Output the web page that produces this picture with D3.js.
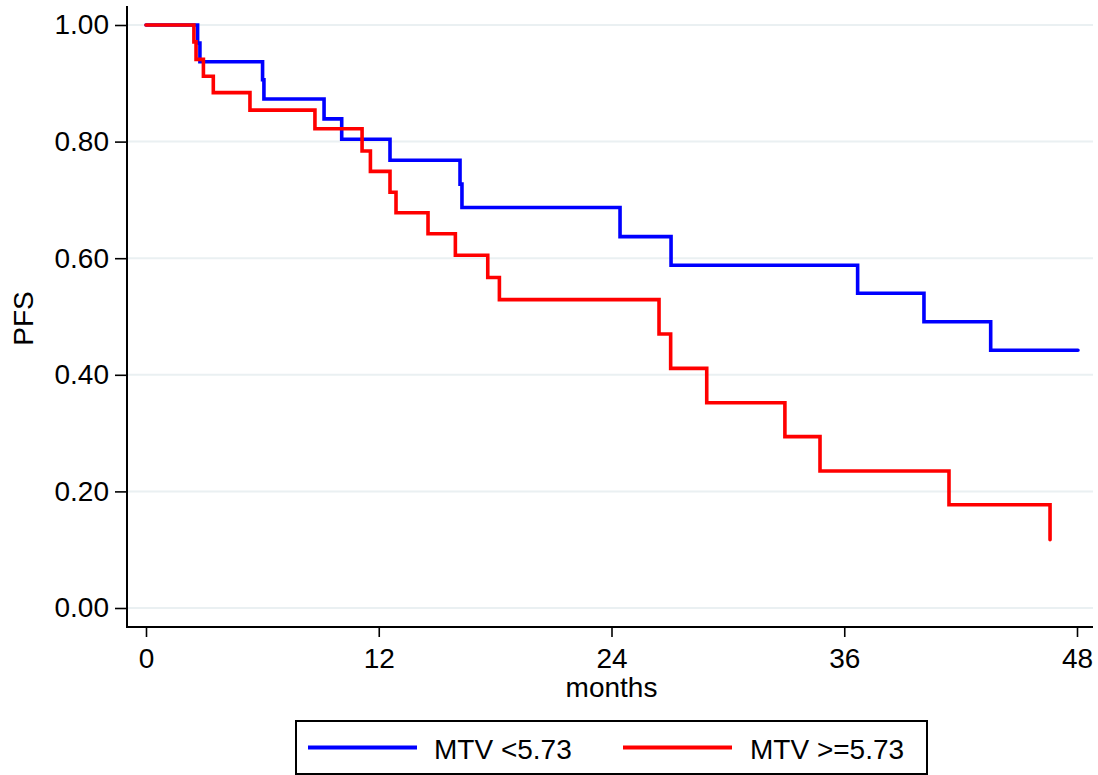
<!DOCTYPE html>
<html>
<head>
<meta charset="utf-8">
<script src="https://cdn.jsdelivr.net/npm/d3@7"></script>
<style>
  html, body { margin: 0; padding: 0; background: #fff; }
  svg { display: block; font-family: "Liberation Sans", Arial, Helvetica, sans-serif; }
</style>
</head>
<body>
<svg id="chart" width="1098" height="775"></svg>
<script>
// Kaplan–Meier progression-free survival by MTV group
const lowTimes  = [0, 2.66, 2.78, 6.01, 6.08, 9.18, 10.09, 12.58, 16.19, 16.29, 24.44, 27.07, 36.69, 40.11, 43.55, 48.05];
const lowSurv   = [1.0, 0.969, 0.937, 0.906, 0.873, 0.839, 0.804, 0.768, 0.727, 0.687, 0.637, 0.588, 0.540, 0.491, 0.442, 0.442];
const highTimes = [0, 2.47, 2.58, 2.96, 3.47, 5.36, 8.71, 11.14, 11.57, 12.58, 12.89, 14.54, 15.95, 17.62, 18.22, 26.45, 27.05, 28.91, 32.94, 34.75, 41.40, 46.61];
const highSurv  = [1.0, 0.971, 0.941, 0.912, 0.884, 0.854, 0.822, 0.784, 0.749, 0.713, 0.678, 0.642, 0.605, 0.567, 0.529, 0.470, 0.411, 0.352, 0.294, 0.235, 0.177, 0.117];

const xTicks = [0, 12, 24, 36, 48];
const yTicks = [0, 0.2, 0.4, 0.6, 0.8, 1.0];
const seriesNames = ["MTV <5.73", "MTV >=5.73"];
const seriesColors = ["#0000ff", "#ff0000"];

const svg = d3.select("#chart");

// plot frame
const frame = { left: 127, right: 1093, top: 6, bottom: 627 };

const x = d3.scaleLinear().domain([0, 48]).range([146, 1077]);
const y = d3.scaleLinear().domain([0, 1]).range([608, 25]);

// horizontal gridlines
svg.append("g")
  .selectAll("line")
  .data(yTicks)
  .join("line")
  .attr("x1", frame.left)
  .attr("x2", frame.right)
  .attr("y1", d => y(d))
  .attr("y2", d => y(d))
  .attr("stroke", "#eaf0f2")
  .attr("stroke-width", 2);

// y axis
const yAxis = d3.axisLeft(y)
  .tickValues(yTicks)
  .tickFormat(d3.format(".2f"))
  .tickSize(12)
  .tickPadding(6);
const gy = svg.append("g")
  .attr("transform", `translate(${frame.left},0)`)
  .call(yAxis);
gy.select(".domain").remove();
gy.selectAll(".tick line").attr("stroke", "#000").attr("stroke-width", 1.6);
gy.selectAll(".tick text")
  .attr("font-size", 28)
  .attr("fill", "#000")
  .attr("font-family", "'Liberation Sans', Arial, sans-serif");

// x axis
const xAxis = d3.axisBottom(x)
  .tickValues(xTicks)
  .tickFormat(d3.format("d"))
  .tickSize(10)
  .tickPadding(11);
const gx = svg.append("g")
  .attr("transform", `translate(0,${frame.bottom})`)
  .call(xAxis);
gx.select(".domain").remove();
gx.selectAll(".tick line").attr("stroke", "#000").attr("stroke-width", 1.6);
gx.selectAll(".tick text")
  .attr("font-size", 28)
  .attr("fill", "#000")
  .attr("font-family", "'Liberation Sans', Arial, sans-serif");

// axis lines
svg.append("line")
  .attr("x1", frame.left).attr("x2", frame.left)
  .attr("y1", frame.top).attr("y2", frame.bottom + 1)
  .attr("stroke", "#000").attr("stroke-width", 2);
svg.append("line")
  .attr("x1", frame.left - 1).attr("x2", frame.right)
  .attr("y1", frame.bottom).attr("y2", frame.bottom)
  .attr("stroke", "#000").attr("stroke-width", 2);

// axis titles
svg.append("text")
  .attr("x", x(24))
  .attr("y", 697)
  .attr("text-anchor", "middle")
  .attr("font-size", 28)
  .text("months");

svg.append("text")
  .attr("transform", `translate(33,${(frame.top + frame.bottom) / 2 + 2}) rotate(-90)`)
  .attr("text-anchor", "middle")
  .attr("font-size", 28)
  .text("PFS");

// survival step curves
const line = d3.line()
  .x(d => x(d[0]))
  .y(d => y(d[1]))
  .curve(d3.curveStepAfter);

const series = [
  d3.zip(lowTimes, lowSurv),
  d3.zip(highTimes, highSurv)
];

svg.append("g")
  .selectAll("path")
  .data(series)
  .join("path")
  .attr("d", line)
  .attr("fill", "none")
  .attr("stroke", (d, i) => seriesColors[i])
  .attr("stroke-width", 3.6)
  .attr("stroke-linejoin", "miter")
  .attr("stroke-linecap", "round");

// legend
const legend = svg.append("g");
legend.append("rect")
  .attr("x", 296).attr("y", 721)
  .attr("width", 631).attr("height", 53)
  .attr("fill", "#fff")
  .attr("stroke", "#000")
  .attr("stroke-width", 2);

const legendItems = [
  { x0: 308, x1: 417, tx: 434 },
  { x0: 623, x1: 732, tx: 750 }
];
legendItems.forEach((it, i) => {
  legend.append("line")
    .attr("x1", it.x0).attr("x2", it.x1)
    .attr("y1", 747.5).attr("y2", 747.5)
    .attr("stroke", seriesColors[i])
    .attr("stroke-width", 4);
  legend.append("text")
    .attr("x", it.tx)
    .attr("y", 759)
    .attr("font-size", 28)
    .attr("fill", "#000")
    .text(seriesNames[i]);
});
</script>
</body>
</html>
